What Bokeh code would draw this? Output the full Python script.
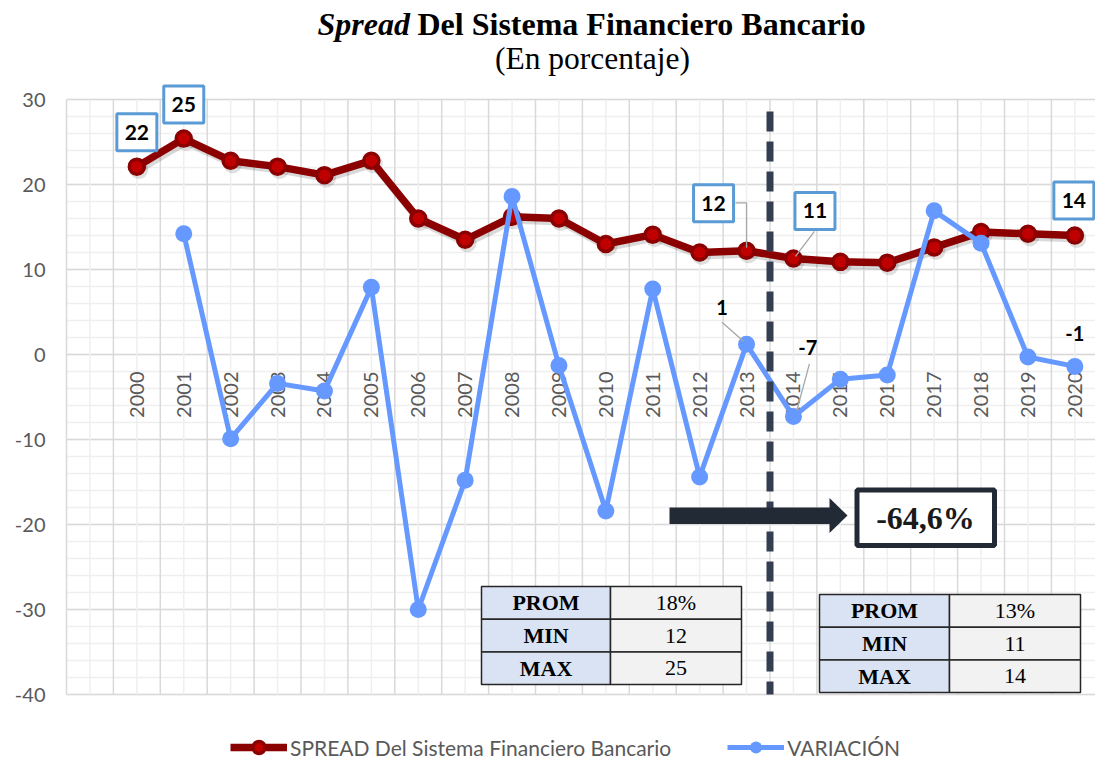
import math
from bokeh.plotting import figure
from bokeh.models import Range1d, FixedTicker, Legend, LegendItem
from bokeh.core.properties import value
from bokeh.embed import file_html
from bokeh.resources import INLINE

# ---------------- data ----------------
years = list(range(2000, 2021))
spread = [22.1, 25.4, 22.8, 22.1, 21.1, 22.8, 16.0, 13.5, 16.2, 16.0, 13.0,
          14.1, 12.0, 12.2, 11.3, 10.9, 10.8, 12.6, 14.4, 14.2, 14.0]
variacion = [float("nan"), 14.2, -9.9, -3.4, -4.3, 7.9, -30.0, -14.8, 18.6, -1.3,
             -18.4, 7.7, -14.4, 1.2, -7.3, -2.9, -2.4, 16.9, 13.1, -0.3, -1.4]
year_labels = [str(y) for y in years]
y_ticks = list(range(-40, 31, 10))
y_minor = list(range(-40, 31, 2))
series_names = ["SPREAD Del Sistema Financiero Bancario", "VARIACIÓN"]
title_italic = "Spread"
title_rest = "Del Sistema Financiero Bancario"
subtitle = "(En porcentaje)"
split_year = 2013.5
change_label = "-64,6%"
stat_names = ["PROM", "MIN", "MAX"]
stats_before = ["18%", "12", "25"]
stats_after = ["13%", "11", "14"]
spread_labelled = [0, 1, 13, 14, 20]
var_labelled = [13, 14, 20]

# ---------------- layout ----------------
W, H = 1095, 763
PAGE = 0
FRAME_L = 66
XS = 46.9   # px per year
YS = 8.5    # px per unit
x0 = 1998.5
x1 = x0 + (W - FRAME_L) / XS
y1 = 30 + (99 - PAGE) / YS
y0 = y1 - H / YS


def sx(px):
    return x0 + (px - PAGE - FRAME_L) / XS


def sy(py):
    return y1 - (py - PAGE) / YS


SANS = "Lato"
SERIF = "Liberation Serif"
GRAY_TXT = "#595959"
RED_LINE = "#8b0000"
RED_FILL = "#c00000"
BLUE = "#6699ff"
NAVY = "#222a35"

p = figure(width=W, height=H, output_backend="svg", toolbar_location=None,
           x_range=Range1d(x0, x1), y_range=Range1d(y0, y1),
           x_axis_location=None, min_border_left=FRAME_L, min_border_right=0,
           min_border_top=0, min_border_bottom=0)
p.outline_line_color = None
p.background_fill_color = "white"
p.border_fill_color = "white"

# y axis
p.yaxis.ticker = FixedTicker(ticks=y_ticks)
p.yaxis.bounds = (-40, 30)
p.yaxis.major_label_overrides = {t: str(t) for t in y_ticks}
p.yaxis.major_tick_in = 0
p.yaxis.major_tick_out = 0
p.yaxis.minor_tick_in = 0
p.yaxis.minor_tick_out = 0
p.yaxis.axis_line_color = "#d9d9d9"
p.yaxis.axis_line_width = 1.5
p.yaxis.major_label_standoff = 21
p.yaxis.major_label_text_font = SANS
p.yaxis.major_label_text_font_size = "20px"
p.yaxis.major_label_text_color = GRAY_TXT

# horizontal grid
p.ygrid.ticker = FixedTicker(ticks=y_ticks, minor_ticks=y_minor)
p.ygrid.grid_line_color = "#d9d9d9"
p.ygrid.grid_line_width = 1.5
p.ygrid.minor_grid_line_color = "#efefef"
p.ygrid.minor_grid_line_width = 1.5
for g in p.xgrid:
    g.visible = False

# vertical grid (category boundaries and centres)
minor_x = [years[0] - 1] + years
major_x = [y - 0.5 for y in years]
p.segment(x0=minor_x, y0=[-40] * len(minor_x), x1=minor_x, y1=[30] * len(minor_x),
          line_color="#efefef", line_width=1.5)
p.segment(x0=major_x, y0=[-40] * len(major_x), x1=major_x, y1=[30] * len(major_x),
          line_color="#d9d9d9", line_width=1.5)

# x labels at the zero line
p.text(x=years, y=[-17 / YS] * len(years), text=year_labels, angle=math.pi / 2,
       text_align="right", text_baseline="middle", text_font=value(SANS),
       text_font_size="20px", text_color=GRAY_TXT)

# red series with shadow
p.line([x + 2 / XS for x in years], [v - 3 / YS for v in spread],
       line_color="black", line_alpha=0.15, line_width=8)
p.scatter([x + 2 / XS for x in years], [v - 3 / YS for v in spread], size=19,
          fill_color="black", fill_alpha=0.12, line_color=None)
r_line = p.line(years, spread, line_color=RED_LINE, line_width=7.5)
r_pts = p.scatter(years, spread, size=15, fill_color=RED_FILL,
                  line_color=RED_LINE, line_width=3.5)

# blue series
b_line = p.line(years, variacion, line_color=BLUE, line_width=5)
b_pts = p.scatter(years, variacion, size=17, fill_color=BLUE, line_color=None)

# dashed split line
p.segment(x0=[split_year], y0=[sy(111)], x1=[split_year], y1=[-40],
          line_color="#333f50", line_width=7, line_dash="20 10")

# arrow and change box
p.quad(left=[sx(669)], right=[sx(831)], top=[sy(507)], bottom=[sy(523.5)],
       fill_color=NAVY, line_color=None)
p.patch([sx(829), sx(847), sx(829)], [sy(497.5), sy(515), sy(532.5)],
        fill_color=NAVY, line_color=None)
p.quad(left=[sx(856.5)], right=[sx(994)], top=[sy(489.5)], bottom=[sy(545)],
       fill_color="white", line_color=NAVY, line_width=5)
p.text(x=[sx(925)], y=[sy(517)], text=[change_label], text_align="center",
       text_baseline="middle", text_font=value(SERIF), text_font_style="bold",
       text_font_size="32px", text_color="#1a1a1a")


# stats tables
def draw_table(left, mid, right, top, row_h, names, vals):
    tops = [top + i * row_h for i in range(len(names))]
    bots = [t + row_h for t in tops]
    p.quad(left=[sx(left)] * len(names), right=[sx(mid)] * len(names),
           top=[sy(t) for t in tops], bottom=[sy(b) for b in bots],
           fill_color="#dae3f3", line_color="#262626", line_width=1.5)
    p.quad(left=[sx(mid)] * len(names), right=[sx(right)] * len(names),
           top=[sy(t) for t in tops], bottom=[sy(b) for b in bots],
           fill_color="#f2f2f2", line_color="#262626", line_width=1.5)
    cy = [sy(t + row_h / 2) for t in tops]
    p.text(x=[sx((left + mid) / 2)] * len(names), y=cy, text=names,
           text_align="center", text_baseline="middle", text_font=value(SERIF),
           text_font_style="bold", text_font_size="22px", text_color="black")
    p.text(x=[sx((mid + right) / 2)] * len(names), y=cy, text=vals,
           text_align="center", text_baseline="middle", text_font=value(SERIF),
           text_font_size="22px", text_color="black")


draw_table(481, 610, 741, 586, 32.7, stat_names, stats_before)
draw_table(819, 949, 1080, 594, 32.7, stat_names, stats_after)

# data labels: spread (boxed)
box_off = {0: (0, -34.5), 1: (0, -34), 13: (-33, -47.5), 14: (21.5, -47.5), 20: (-1, -35)}
sp_leaders = {13: [(-11, -48), (0, -48), (0, -3)], 14: [(21, -27), (2, -2)]}
lx, ly = [], []
for i, pts in sp_leaders.items():
    lx.append([years[i] + dx / XS for dx, dy in pts])
    ly.append([spread[i] - dy / YS for dx, dy in pts])
var_off = {13: (-24.6, -37.3), 14: (14.3, -69.3), 20: (0, -33)}
var_leaders = {13: [(-24.6, -22), (-3, -3)], 14: [(16, -52.7), (3.3, -6)]}
for i, pts in var_leaders.items():
    lx.append([years[i] + dx / XS for dx, dy in pts])
    ly.append([variacion[i] - dy / YS for dx, dy in pts])
p.multi_line(lx, ly, line_color="#a6a6a6", line_width=1.3)

bx = [years[i] + box_off[i][0] / XS for i in spread_labelled]
by = [spread[i] - box_off[i][1] / YS for i in spread_labelled]
p.rect(x=bx, y=by, width=40, height=37, width_units="screen", height_units="screen",
       fill_color="white", line_color="#5b9bd5", line_width=3)
p.text(x=bx, y=by, text=[f"{spread[i]:.0f}" for i in spread_labelled],
       text_align="center", text_baseline="middle", text_font=value(SANS),
       text_font_style="bold", text_font_size="21px", text_color="black")

vx = [years[i] + var_off[i][0] / XS for i in var_labelled]
vy = [variacion[i] - var_off[i][1] / YS for i in var_labelled]
p.text(x=vx, y=vy, text=[f"{variacion[i]:.0f}" for i in var_labelled],
       text_align="center", text_baseline="middle", text_font=value(SANS),
       text_font_style="bold", text_font_size="20px", text_color="black")

# title
p.text(x=[sx(317)], y=[sy(23)], text=[title_italic], text_align="left",
       text_baseline="alphabetic", text_font=value(SERIF),
       text_font_style="bold italic", text_font_size="32px", text_color="black")
p.text(x=[sx(417)], y=[sy(23)], text=[title_rest], text_align="left",
       text_baseline="alphabetic", text_font=value(SERIF),
       text_font_style="bold", text_font_size="32px", text_color="black")
p.text(x=[sx(592)], y=[sy(58)], text=[subtitle], text_align="center",
       text_baseline="alphabetic", text_font=value(SERIF),
       text_font_size="31.5px", text_color="black")

# legend
legend = Legend(items=[LegendItem(label=series_names[0], renderers=[r_line, r_pts]),
                       LegendItem(label=series_names[1], renderers=[b_line, b_pts])],
                location=(230 - PAGE - FRAME_L, 1), orientation="horizontal",
                glyph_width=57, glyph_height=30, label_standoff=3, spacing=56,
                padding=0, margin=0, border_line_color=None,
                background_fill_alpha=0, label_text_font=SANS,
                label_text_font_size="21px", label_text_color=GRAY_TXT)
p.add_layout(legend)

open("out.html", "w").write(file_html(p, INLINE))
